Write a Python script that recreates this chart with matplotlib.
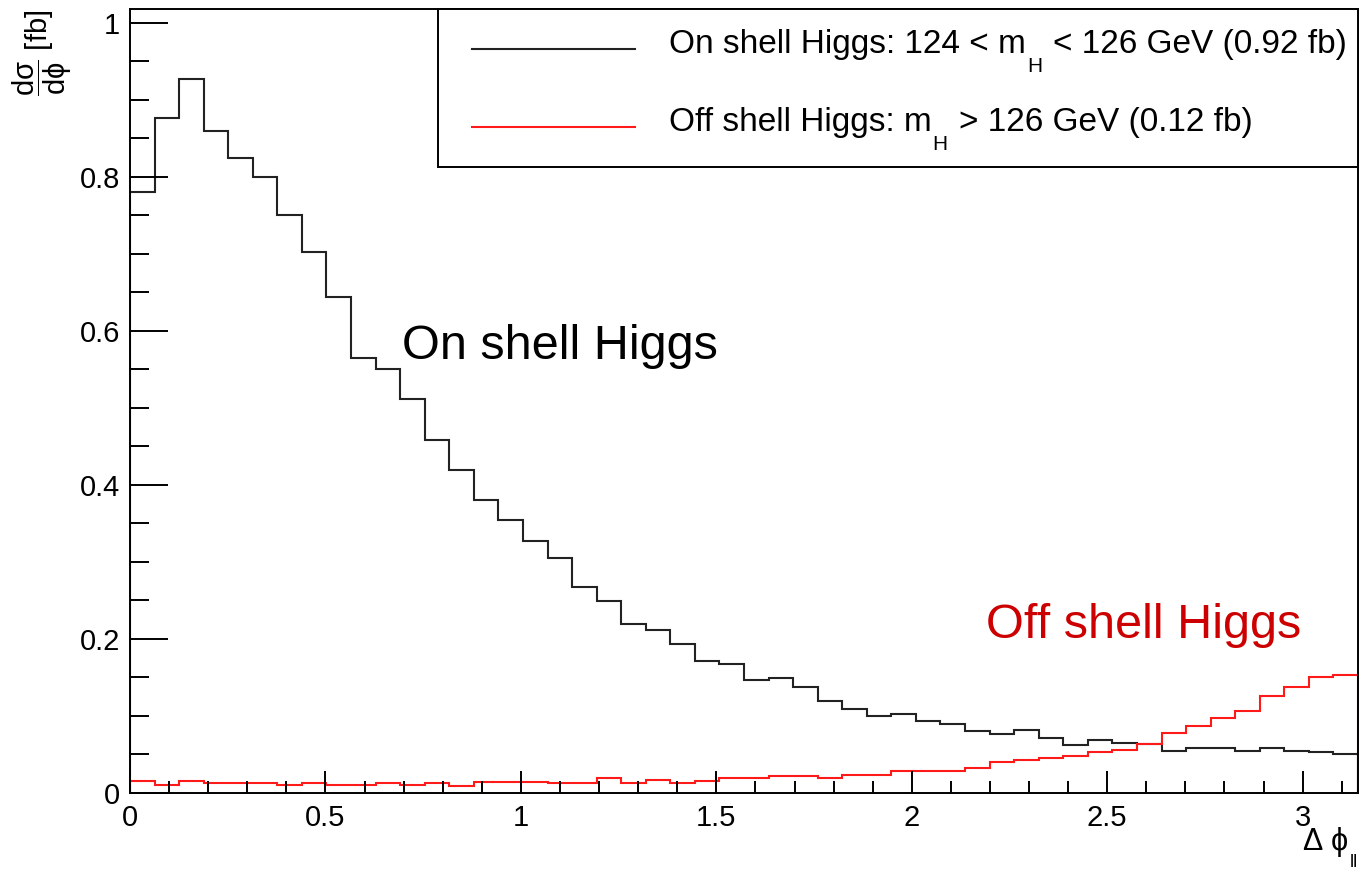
import numpy as np
import matplotlib
matplotlib.use("Agg")
import matplotlib.pyplot as plt
from matplotlib.ticker import MultipleLocator
from matplotlib.patches import Rectangle
from matplotlib.lines import Line2D

plt.rcParams['font.family'] = ['Liberation Sans', 'DejaVu Sans']
plt.rcParams['mathtext.fontset'] = 'custom'
plt.rcParams['mathtext.rm'] = 'Liberation Sans'
plt.rcParams['mathtext.it'] = 'Liberation Sans'
plt.rcParams['mathtext.sf'] = 'Liberation Sans'
plt.rcParams['mathtext.bf'] = 'Liberation Sans:bold'

# histogram definition: 50 bins in delta phi from 0 to pi
n_bins = 50
phi_max = np.pi

# on shell Higgs, 124 < mH < 126 GeV
on_shell = [0.780, 0.877, 0.927, 0.860, 0.824, 0.800, 0.751, 0.702, 0.644, 0.565,
            0.551, 0.512, 0.458, 0.419, 0.381, 0.354, 0.327, 0.305, 0.267, 0.249,
            0.220, 0.212, 0.194, 0.171, 0.168, 0.147, 0.149, 0.138, 0.120, 0.109,
            0.100, 0.102, 0.094, 0.089, 0.080, 0.077, 0.082, 0.071, 0.062, 0.069,
            0.0645, 0.063, 0.055, 0.058, 0.058, 0.055, 0.058, 0.055, 0.053, 0.051]

# off shell Higgs, mH > 126 GeV
off_shell = [0.0156, 0.011, 0.0156, 0.0134, 0.0134, 0.0134, 0.011, 0.0134, 0.011, 0.011,
             0.0134, 0.011, 0.0134, 0.009, 0.0147, 0.0147, 0.0147, 0.0134, 0.0134, 0.019,
             0.0134, 0.017, 0.0134, 0.0156, 0.020, 0.020, 0.022, 0.022, 0.020, 0.024,
             0.023, 0.0286, 0.0286, 0.0286, 0.033, 0.040, 0.0424, 0.045, 0.0485, 0.0537,
             0.056, 0.0636, 0.078, 0.0866, 0.098, 0.1065, 0.126, 0.138, 0.151, 0.153]

# legend labels, split round the subscript H (ROOT puts it well below the line)
legend_parts = [('On shell Higgs: 124 < m', 'H', '< 126 GeV (0.92 fb)'),
                ('Off shell Higgs: m', 'H', '> 126 GeV (0.12 fb)')]
colors = ['#222222', '#ff1a1a']

W, H = 1360, 869
edges = np.linspace(0, phi_max, n_bins + 1)

fig = plt.figure(figsize=(W / 100, H / 100), dpi=100)
ax = fig.add_axes([130 / W, 76 / H, 1228 / W, 784 / H])
renderer = fig.canvas.get_renderer()

ax.stairs(on_shell, edges, color=colors[0], linewidth=1.5)
ax.stairs(off_shell, edges, color=colors[1], linewidth=1.5)

ax.set_xlim(0, phi_max)
ax.set_ylim(0, 1.018)

ax.xaxis.set_major_locator(MultipleLocator(0.5))
ax.xaxis.set_minor_locator(MultipleLocator(0.1))
ax.yaxis.set_major_locator(MultipleLocator(0.2))
ax.yaxis.set_minor_locator(MultipleLocator(0.05))
ax.xaxis.set_major_formatter(lambda v, p: f'{v:g}')
ax.yaxis.set_major_formatter(lambda v, p: f'{v:g}')

ax.tick_params(which='both', direction='in', width=1.4, labelsize=21, top=False, right=False)
ax.tick_params(axis='y', which='major', length=27, pad=7)
ax.tick_params(axis='y', which='minor', length=14)
ax.tick_params(axis='x', which='major', length=16, pad=8)
ax.tick_params(axis='x', which='minor', length=8.6)
for s in ax.spines.values():
    s.set_linewidth(1.4)

ax.text(0.696, 0.564, 'On shell Higgs', fontsize=35, color='black')
ax.text(2.189, 0.201, 'Off shell Higgs', fontsize=35, color='#cc0000')


def pix_text(x, y, parts, **kw):
    # parts: (string, fontsize, drop in px, gap after in px), x/y in pixels from top left
    for s, size, dy, gap in parts:
        t = fig.text(x / W, 1 - (y + dy) / H, s, fontsize=size, ha='left', va='baseline', **kw)
        x += t.get_window_extent(renderer).width + gap
    return x


# legend box drawn by hand to get ROOT's layout
fig.add_artist(Rectangle((438 / W, 1 - 167 / H), 920 / W, 158 / H, transform=fig.transFigure,
                         facecolor='white', edgecolor='black', linewidth=1.4, zorder=5))
row_y = [49, 127]
base_y = [53, 131.5]
for i, (a, sub, b) in enumerate(legend_parts):
    fig.add_artist(Line2D([472 / W, 635 / W], [1 - row_y[i] / H] * 2, transform=fig.transFigure,
                          color=colors[i], linewidth=1.5, zorder=6))
    pix_text(669, base_y[i], [(a, 24, 0, 1), (sub, 15, 19, 11), (b, 24, 0, 0)], zorder=6)

fig.text(42 / W, 1 - 10 / H, r'$\dfrac{d\sigma}{d\phi}$ [fb]', rotation=90,
         ha='center', va='top', fontsize=21)
pix_text(1302, 850, [('\u0394', 22, 0, 9), ('\u03d5', 22, 0, 1), ('ll', 13, 17, 0)])

fig.savefig('out.png', dpi=100)
